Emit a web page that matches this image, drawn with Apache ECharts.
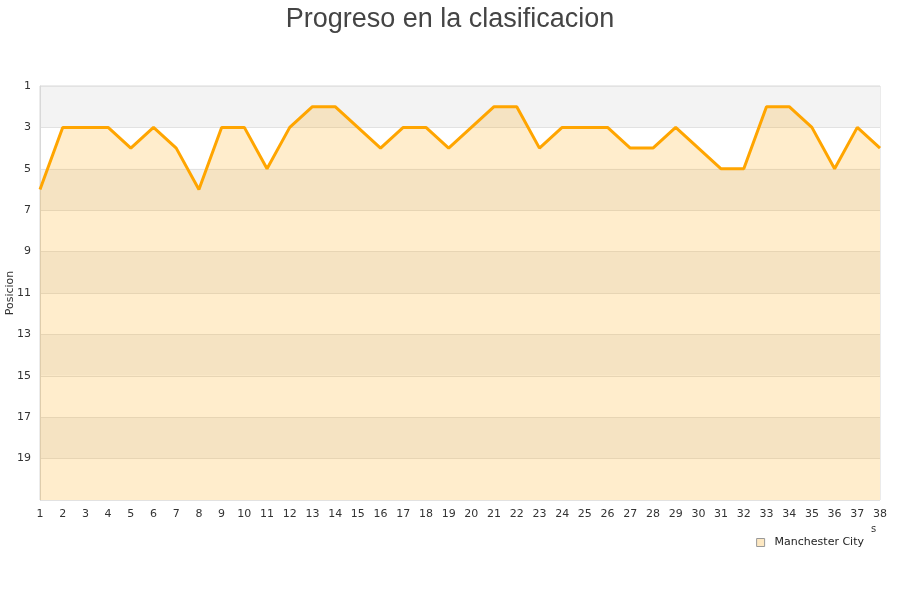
<!DOCTYPE html>
<html><head><meta charset="utf-8">
<script src="https://cdn.jsdelivr.net/npm/echarts@6/dist/echarts.min.js"></script>
<style>html,body{margin:0;padding:0;background:#fff}#c{width:900px;height:600px}</style>
</head><body><div id="c"></div>
<script>
const matchdays = ['1','2','3','4','5','6','7','8','9','10','11','12','13','14','15','16','17','18','19','20','21','22','23','24','25','26','27','28','29','30','31','32','33','34','35','36','37','38'];
const positions = [6,3,3,3,4,3,4,6,3,3,5,3,2,2,3,4,3,3,4,3,2,2,4,3,3,3,4,4,3,4,5,5,2,2,3,5,3,4];
const teamName = 'Manchester City';
const chartTitle = 'Progreso en la clasificacion';
const yName = 'Posicion';

const chart = echarts.init(document.getElementById('c'));
chart.setOption({
  animation: false,
  title: { text: chartTitle, left: 'center', top: 1, textStyle: { fontSize: 27, fontWeight: 'normal', color: '#444', fontFamily: 'Liberation Sans' } },
  grid: { left: 40, right: 20, top: 86, bottom: 100, containLabel: false, outerBoundsMode: 'none', show: true, borderColor: '#d8d8d8', borderWidth: 1 },
  legend: {
    data: [{ name: teamName, icon: 'rect', itemStyle: { color: '#fde8c2', borderColor: '#999', borderWidth: 1 } }],
    right: 31, top: 532, itemWidth: 8, itemHeight: 8, itemGap: 6,
    textStyle: { fontSize: 11, color: '#222', fontFamily: 'DejaVu Sans', padding: [0, 0, 0, 5] }
  },
  xAxis: {
    type: 'category', data: matchdays, boundaryGap: false,
    axisLine: { show: false }, axisTick: { show: false },
    axisLabel: { fontSize: 11, color: '#333', margin: 9, fontFamily: 'DejaVu Sans', interval: 0 },
    splitLine: { show: false }
  },
  yAxis: {
    type: 'value', inverse: true, min: 1, max: 21, interval: 2,
    name: yName, nameLocation: 'middle', nameGap: 24, nameRotate: 90, nameMoveOverlap: false,
    nameTextStyle: { fontSize: 11, color: '#333', fontFamily: 'DejaVu Sans' },
    axisLine: { show: true, lineStyle: { color: '#d8d8d8' } }, axisTick: { show: false },
    axisLabel: { fontSize: 11, color: '#333', margin: 9, fontFamily: 'DejaVu Sans', showMaxLabel: false },
    splitLine: { show: true, lineStyle: { color: '#e2e2e2', width: 1 } },
    splitArea: { show: true, areaStyle: { color: ['#f3f3f3', '#ffffff'] } }
  },
  graphic: [{ type: 'text', left: 871, top: 524, style: { text: 's', fontSize: 10, fill: '#333', fontFamily: 'DejaVu Sans' } }],
  series: [{
    name: teamName, type: 'line', data: positions, showSymbol: false, symbol: 'none',
    lineStyle: { color: '#ffa500', width: 3 },
    itemStyle: { color: '#fde8c2' },
    areaStyle: { color: 'rgba(255,165,0,0.2)', opacity: 1, origin: 'end' }
  }]
});
</script></body></html>
